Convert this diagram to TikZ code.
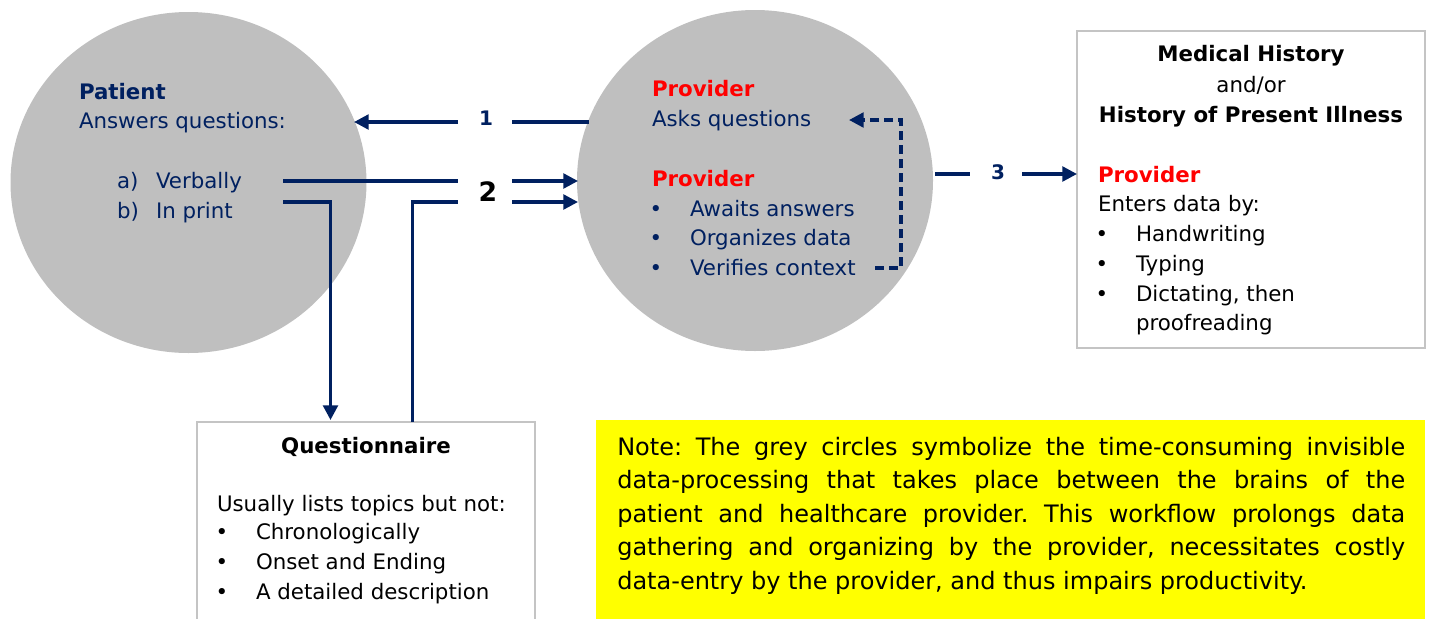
\documentclass[tikz,border=0pt]{standalone}
\usepackage{fontspec}
\setmainfont{DejaVu Sans}
\usetikzlibrary{arrows.meta,shapes.geometric}
\definecolor{navy}{HTML}{002060}
\definecolor{circgrey}{HTML}{BFBFBF}
\definecolor{boxgrey}{HTML}{C4C4C4}
\definecolor{notey}{HTML}{FFFF00}
\definecolor{provred}{HTML}{FF0000}
\begin{document}
\begin{tikzpicture}[x=0.75pt,y=-0.75pt,
  txt/.style={inner sep=0pt, outer sep=0pt, anchor=base west, font=\fontsize{16}{19}\selectfont},
  ctxt/.style={txt, anchor=base},
  bul/.style={inner sep=0pt, anchor=base, font=\fontsize{16}{19}\selectfont},
  hd/.style={font=\fontsize{16}{19}\selectfont\bfseries},
  brain/.style={ellipse, fill=circgrey, draw=none, minimum width=267pt, minimum height=255.75pt, inner sep=0pt},
  frame/.style={draw=boxgrey, line width=1.1pt},
  conn/.style={draw=navy, line width=2.5pt},
  arr/.style={conn, -{Triangle[length=11pt,width=11pt]}},
  darr/.style={arr, dash pattern=on 6.5pt off 4pt},
  num/.style={inner sep=0pt, font=\fontsize{15}{18}\selectfont\bfseries, text=navy}
]
\useasboundingbox (0,0) rectangle (1430,618);
\clip (0,0) rectangle (1430,618);

% brains
\node[brain] (patient) at (188.5,182.5) {};
\node[brain] (provider) at (755,180.5) {};

% boxes
\draw[frame] (1077,31) rectangle (1425,348);
\node[inner sep=0pt, minimum width=261pt, minimum height=237.75pt, anchor=north west] (mhbox) at (1077,31) {};
\draw[frame] (197,422) rectangle (535,660);
\node[inner sep=0pt, minimum width=253.5pt, minimum height=150pt, anchor=north west] (qbox) at (197,422) {};
\fill[notey] (596,420) rectangle (1425,640);
\node[inner sep=0pt, minimum width=621.75pt, minimum height=148.5pt, anchor=north west] (notebox) at (596,420) {};

% patient text
\node[txt, hd, text=navy] (pat1) at (79,99) {Patient};
\node[txt, text=navy] (pat2) at (79,128) {Answers questions:};
\node[txt, text=navy] (pa) at (117,188) {a)};
\node[txt, text=navy] (pav) at (156,188) {Verbally};
\node[txt, text=navy] (pb) at (117,218) {b)};
\node[txt, text=navy] (pbv) at (156,218) {In print};

% provider text
\node[txt, hd, text=provred] (pr1) at (652,96) {Provider};
\node[txt, text=navy] (pr2) at (652,126) {Asks questions};
\node[txt, hd, text=provred] (pr3) at (652,186) {Provider};
\node[bul, text=navy] (prb1) at (656,216) {•};
\node[bul, text=navy] (prb2) at (656,245) {•};
\node[bul, text=navy] (prb3) at (656,275) {•};
\node[txt, text=navy] (pr4) at (690,216) {Awaits answers};
\node[txt, text=navy] (pr5) at (690,245) {Organizes data};
\node[txt, text=navy] (pr6) at (690,275) {Verifies context};

% medical history box text
\node[ctxt, hd] (mh1) at (1251,61) {Medical History};
\node[ctxt] (mh2) at (1251,92) {and/or};
\node[ctxt, hd] (mh3) at (1251,122) {History of Present Illness};
\node[txt, hd, text=provred] (mh4) at (1098,182) {Provider};
\node[txt] (mh5) at (1098,211) {Enters data by:};
\node[bul] (mhb1) at (1102,241) {•};
\node[bul] (mhb2) at (1102,271) {•};
\node[bul] (mhb3) at (1102,301) {•};
\node[txt] (mh6) at (1136,241) {Handwriting};
\node[txt] (mh7) at (1136,271) {Typing};
\node[txt] (mh8) at (1136,301) {Dictating, then};
\node[txt] (mh9) at (1136,330) {proofreading};

% questionnaire text
\node[ctxt, hd] (q1) at (366,453) {Questionnaire};
\node[txt] (q2) at (217,511) {Usually lists topics but not:};
\node[bul] (qb1) at (222,539) {•};
\node[bul] (qb2) at (222,569) {•};
\node[bul] (qb3) at (222,599) {•};
\node[txt] (q3) at (256,539) {Chronologically};
\node[txt] (q4) at (256,569) {Onset and Ending};
\node[txt] (q5) at (256,599) {A detailed description};

% note (anchor at the baseline of its last line)
\node[inner sep=0pt, anchor=base west, align=left, font=\fontsize{18}{25.2}\selectfont\frenchspacing] (note) at (617,589.5)
 {\makebox[591pt][s]{Note: The grey circles symbolize the time-consuming invisible}\\
  \makebox[591pt][s]{data-processing that takes place between the brains of the}\\
  \makebox[591pt][s]{patient and healthcare provider. This workflow prolongs data}\\
  \makebox[591pt][s]{gathering and organizing by the provider, necessitates costly}\\
  data-entry by the provider, and thus impairs productivity.};

% connector labels
\node[num] (l1) at (486,118) {1};
\node[inner sep=0pt, font=\fontsize{20}{24}\selectfont\bfseries] (l2) at (488,192) {2};
\node[num] (l3) at (998,172) {3};

% connector end points
\coordinate (a1s) at (589,122);
\coordinate (a1m) at (512,122);
\coordinate (a1n) at (458,122);
\coordinate (a1e) at (354,122);
\coordinate (vbs) at (283,181);
\coordinate (vbm) at (458,181);
\coordinate (vbn) at (512,181);
\coordinate (vbe) at (578,181);
\coordinate (ips) at (283,202);
\coordinate (ipc) at (330.5,202);
\coordinate (ipe) at (330.5,420);
\coordinate (qus) at (412.5,422);
\coordinate (quc) at (412.5,202);
\coordinate (qum) at (458,202);
\coordinate (qun) at (512,202);
\coordinate (que) at (578,202);
\coordinate (dvs) at (875,268);
\coordinate (dvc1) at (901,268);
\coordinate (dvc2) at (901,120);
\coordinate (dve) at (849,120);
\coordinate (a3s) at (935,174);
\coordinate (a3m) at (970,174);
\coordinate (a3n) at (1022,174);
\coordinate (a3e) at (1077,174);

% connectors
\draw[conn] (a1s) -- (a1m);
\draw[arr] (a1n) -- (a1e);
\draw[conn] (vbs) -- (vbm);
\draw[arr] (vbn) -- (vbe);
\draw[arr] (ips) -- (ipc) -- (ipe);
\draw[conn] (qus) -- (quc) -- (qum);
\draw[arr] (qun) -- (que);
\draw[darr] (dvs) -- (dvc1) -- (dvc2) -- (dve);
\draw[conn] (a3s) -- (a3m);
\draw[arr] (a3n) -- (a3e);
\end{tikzpicture}
\end{document}
